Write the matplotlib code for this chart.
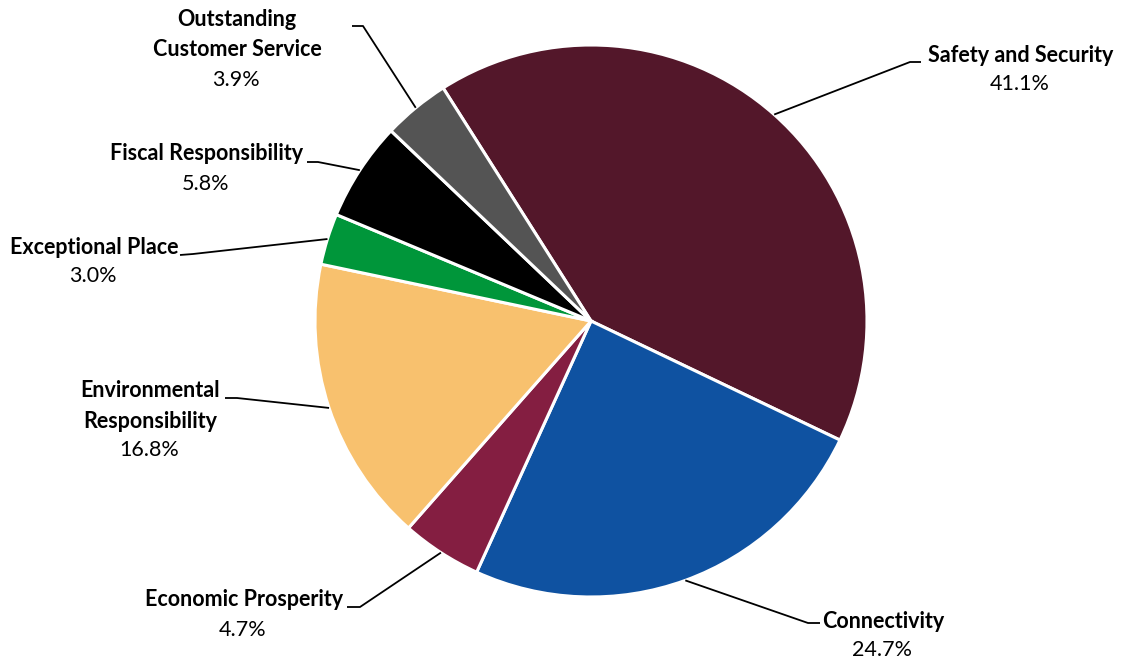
import matplotlib.pyplot as plt
import numpy as np

plt.rcParams['font.family'] = ['Lato', 'DejaVu Sans']

# slices, clockwise from the top
names = [["Safety and Security"], ["Connectivity"], ["Economic Prosperity"],
         ["Environmental", "Responsibility"], ["Exceptional Place"],
         ["Fiscal Responsibility"], ["Outstanding", "Customer Service"]]
shares = [41.1, 24.7, 4.7, 16.8, 3.0, 5.8, 3.9]
colors = ["#53172A", "#0F52A1", "#841E41", "#F8C16E", "#00963A", "#000000", "#545454"]

W, H = 1123, 660
cx, cy, r = 591, H - 321, 276

# label layout in pixel coords (y measured from top): x, y of last name line, elbow, end
label_xy = [(1021, 55), (883, 621), (244, 600), (150, 421), (94, 247), (207, 154), (237, 50)]
elbows = [(910, 62), (808, 623), (360, 607), (237, 398), (193, 254), (318, 162), (363, 26)]
ends = [(921, 62), (820, 623), (347, 607), (225, 398), (180, 255), (307, 162), (352, 26)]

fig = plt.figure(figsize=(W / 100, H / 100), dpi=100)
ax = fig.add_axes([0, 0, 1, 1])

start = 122.4
wedges, _ = ax.pie(shares, colors=colors, startangle=start, counterclock=False,
                   center=(cx, cy), radius=r,
                   wedgeprops=dict(edgecolor="white", linewidth=2.2))
ax.set_xlim(0, W)
ax.set_ylim(0, H)
ax.set_aspect('equal')
ax.axis('off')

for w, nm, pct, (lx, ly), (ex, ey), (tx, ty) in zip(wedges, names, shares, label_xy, elbows, ends):
    mid = np.deg2rad((w.theta1 + w.theta2) / 2)
    sx, sy = cx + r * np.cos(mid), cy + r * np.sin(mid)
    ax.plot([sx, ex, tx], [sy, H - ey, H - ty], color="black", lw=1.3,
            solid_capstyle='butt')
    for i, line in enumerate(reversed(nm)):
        ax.text(lx, H - ly + i * 30.5, line, ha='center', va='center',
                fontsize=15.5, fontweight='bold', color="black")
    ax.text(lx - 1, H - ly - 29.5, f"{pct:.1f}%", ha='center', va='center',
            fontsize=15.5, color="black")

fig.savefig("out.png", dpi=100)
